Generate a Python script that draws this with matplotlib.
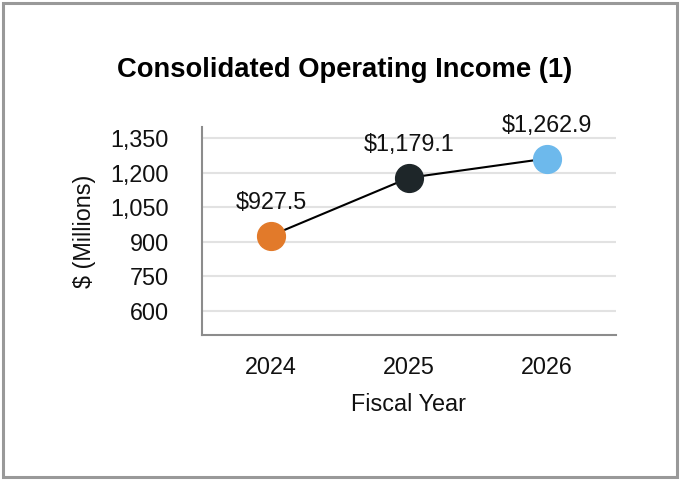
import matplotlib
matplotlib.use("Agg")
import matplotlib.pyplot as plt
from matplotlib.patches import Rectangle

years = ["2024", "2025", "2026"]
income = [927.5, 1179.1, 1262.9]
labels = ["$927.5", "$1,179.1", "$1,262.9"]
dot_colors = ["#E27A2A", "#1E2629", "#6DB9EC"]
yticks = [600, 750, 900, 1050, 1200, 1350]

plt.rcParams['font.family'] = ['Liberation Sans', 'DejaVu Sans']

fig = plt.figure(figsize=(6.8, 4.8), dpi=100)
ax = fig.add_axes([202 / 680, 1 - 335 / 480, (616 - 202) / 680, (335 - 127) / 480])

x = list(range(len(years)))
ax.plot(x, income, color="black", lw=1.5, zorder=2)
for xi, val, c, lab in zip(x, income, dot_colors, labels):
    ax.plot(xi, val, "o", color=c, markersize=20, zorder=3)
    ax.annotate(lab, (xi, val), xytext=(0, 24), textcoords="offset points",
                ha="center", va="center", fontsize=16.8, color="#111111")

ax.set_xlim(-0.5, 2.5)
ax.set_ylim(495, 1400)
ax.set_xticks(x)
ax.set_xticklabels(years)
ax.set_yticks(yticks)
ax.set_yticklabels([f"{v:,}" for v in yticks])
ax.tick_params(axis="both", length=0, labelsize=16.8, colors="#111111")
ax.tick_params(axis="y", pad=24)
ax.tick_params(axis="x", pad=15)

ax.grid(axis="y", color="#E2E2E2", lw=1.5)
ax.set_axisbelow(True)
for side in ["top", "right"]:
    ax.spines[side].set_visible(False)
for side in ["left", "bottom"]:
    ax.spines[side].set_color("#8C8C8C")
    ax.spines[side].set_linewidth(1.5)

ax.set_xlabel("Fiscal Year", fontsize=16.8, labelpad=10, color="#111111")
ax.set_ylabel("$ (Millions)", fontsize=16.8, labelpad=10, color="#111111")

fig.text(345 / 680, 1 - 70 / 480, "Consolidated Operating Income (1)",
         ha="center", va="center", fontsize=19.7, fontweight="bold")

fig.patches.append(Rectangle((3 / 680, 3 / 480), 674 / 680, 474 / 480,
                             transform=fig.transFigure, fill=False,
                             edgecolor="#999999", lw=2.2))

fig.savefig("out.png", dpi=100)
